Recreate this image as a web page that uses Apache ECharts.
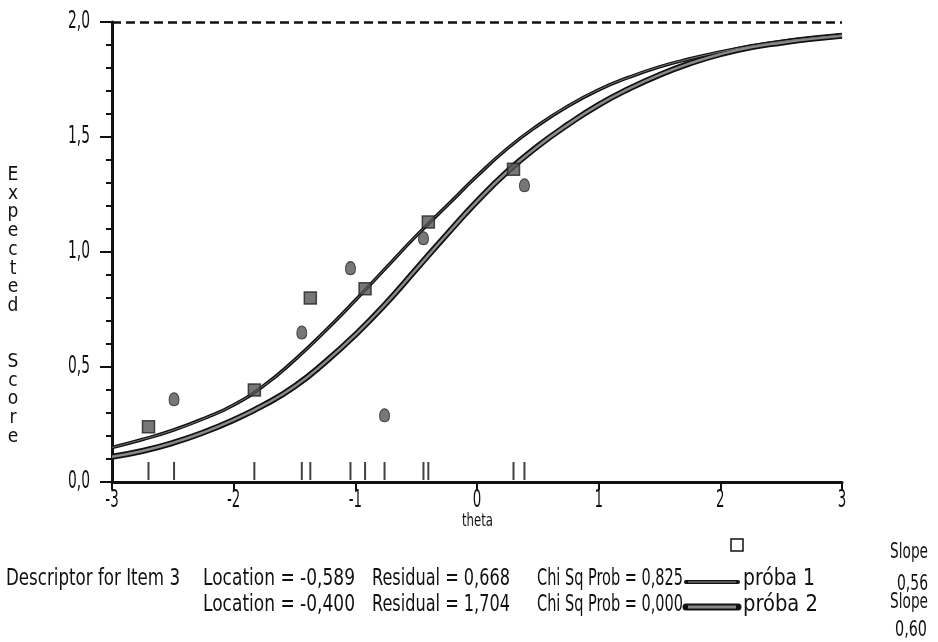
<!DOCTYPE html>
<html>
<head>
<meta charset="utf-8">
<script src="https://cdn.jsdelivr.net/npm/echarts@6/dist/echarts.min.js"></script>
<style>
  html, body { margin: 0; padding: 0; background: #fff; }
  #chart { width: 938px; height: 642px; }
</style>
</head>
<body>
<div id="chart"></div>
<script>
// theta grid for the two expected score curves
const thetaGrid = [-3, -2.75, -2.5, -2.25, -2, -1.75, -1.5, -1.25, -1, -0.75, -0.5, -0.25, 0,
  0.25, 0.5, 0.75, 1, 1.25, 1.5, 1.75, 2, 2.25, 2.5, 2.75, 3];
const proba1Curve = [0.15, 0.185, 0.225, 0.275, 0.335, 0.42, 0.53, 0.655, 0.79, 0.93, 1.07, 1.20, 1.33,
  1.45, 1.55, 1.635, 1.705, 1.76, 1.805, 1.84, 1.87, 1.895, 1.915, 1.93, 1.943];
const proba2Curve = [0.11, 0.135, 0.17, 0.215, 0.27, 0.335, 0.415, 0.52, 0.64, 0.775, 0.925, 1.075, 1.22,
  1.35, 1.46, 1.555, 1.64, 1.71, 1.77, 1.82, 1.86, 1.89, 1.91, 1.927, 1.94];

// observed class means
const proba1Theta = [-2.70, -1.83, -1.37, -0.92, -0.40, 0.30];
const proba1Obs   = [0.24, 0.40, 0.80, 0.84, 1.13, 1.36];
const proba2Theta = [-2.49, -1.44, -1.04, -0.76, -0.44, 0.39];
const proba2Obs   = [0.36, 0.65, 0.93, 0.29, 1.06, 1.29];

const xTicks = [-3, -2, -1, 0, 1, 2, 3];
const yTicks = [0, 0.5, 1, 1.5, 2];

const descRow1 = ['Descriptor for Item 3', 'Location = -0,589', 'Residual = 0,668', 'Chi Sq Prob = 0,825', 'próba 1'];
const descRow2 = ['', 'Location = -0,400', 'Residual = 1,704', 'Chi Sq Prob = 0,000', 'próba 2'];
const slopes = ['0,56', '0,60'];

const FONT = '"DejaVu Sans Condensed", "DejaVu Sans", sans-serif';

const rugTheta = proba1Theta.concat(proba2Theta);
const pair = (xs, ys) => xs.map((x, i) => [x, ys[i]]);

const eggPath = 'path://M10 0 C16 0 20 6 20 13 C20 20 16 24 10 24 C4 24 0 20 0 13 C0 6 4 0 10 0 Z';

let chart = echarts.init(document.getElementById('chart'));

// the original uses a narrow face, so texts are squeezed horizontally
const measureCtx = document.createElement('canvas').getContext('2d');
function textW(text, size) {
  measureCtx.font = size + 'px ' + FONT;
  return measureCtx.measureText(text).width;
}
function fitText(text, x, y, width, size) {
  return {
    type: 'text', silent: true, x: x, y: y, scaleX: width / textW(text, size), scaleY: 1,
    style: { text: text, x: 0, y: 0, fill: '#111', fontSize: size, fontFamily: FONT, verticalAlign: 'middle' }
  };
}
function narrowText(text, cx, cy, size, sx, align) {
  const w = textW(text, size) * sx;
  const left = align === 'right' ? cx - w : cx - w / 2;
  return {
    type: 'text', silent: true, x: left, y: cy, scaleX: sx, scaleY: 1,
    style: { text: text, x: 0, y: 0, fill: '#111', fontSize: size, fontFamily: FONT, verticalAlign: 'middle' }
  };
}

const colX = [6, 203, 372, 537, 743];
const colW = [174, 152, 138, 146, 72];
let graphics = [];
descRow1.forEach((t, i) => { if (t) graphics.push(fitText(t, colX[i], 579, colW[i], 23)); });
descRow2.forEach((t, i) => { if (t) graphics.push(fitText(t, colX[i], 605, colW[i] + (i === 4 ? 3 : 0), 23)); });
graphics.push(fitText('theta', 462, 522, 31, 17));
graphics.push({
  type: 'text', silent: true, x: 13, y: 306,
  style: { text: 'E\nx\np\ne\nc\nt\ne\nd\n\n\nS\nc\no\nr\ne', x: 0, y: 0, fill: '#111', fontSize: 19,
    fontFamily: FONT, align: 'center', verticalAlign: 'middle', lineHeight: 18.7 }
});
graphics.push(fitText('Slope', 890, 553, 38, 21));
graphics.push(fitText(slopes[0], 897, 585, 31, 21));
graphics.push(fitText('Slope', 890, 603, 38, 21));
graphics.push(fitText(slopes[1], 895, 631, 32, 21));
// legend line samples
graphics.push({ type: 'line', silent: true, shape: { x1: 686, y1: 582, x2: 738, y2: 582 }, style: { stroke: '#111', lineWidth: 4, lineCap: 'round' } });
graphics.push({ type: 'line', silent: true, shape: { x1: 688, y1: 582, x2: 736, y2: 582 }, style: { stroke: '#999', lineWidth: 1.2 } });
graphics.push({ type: 'line', silent: true, shape: { x1: 686, y1: 607, x2: 738, y2: 607 }, style: { stroke: '#111', lineWidth: 7, lineCap: 'round' } });
graphics.push({ type: 'line', silent: true, shape: { x1: 688, y1: 607, x2: 736, y2: 607 }, style: { stroke: '#888', lineWidth: 3 } });
graphics.push({ type: 'rect', silent: true, shape: { x: 731, y: 539, width: 12, height: 12 }, style: { fill: '#fff', stroke: '#111', lineWidth: 1.5 } });

let option = {
  backgroundColor: '#fff',
  animation: false,
  grid: { left: 112, right: 96, top: 22, bottom: 160 },
  xAxis: {
    type: 'value', min: -3, max: 3, interval: 1,
    axisLine: { onZero: false, lineStyle: { color: '#111', width: 3 } },
    axisTick: { length: 8, lineStyle: { color: '#111', width: 2 } },
    axisLabel: { show: false },
    splitLine: { show: false }
  },
  yAxis: {
    type: 'value', min: 0, max: 2, interval: 0.5,
    axisLine: { onZero: false, lineStyle: { color: '#111', width: 3 } },
    axisTick: { length: 12, lineStyle: { color: '#111', width: 2 } },
    minorTick: { show: true, splitNumber: 5, length: 6, lineStyle: { color: '#111', width: 2 } },
    axisLabel: { show: false },
    splitLine: { show: false }
  },
  graphic: graphics,
  series: [
    {
      name: 'próba 2 outline', type: 'line', smooth: true, showSymbol: false, z: 2,
      data: pair(thetaGrid, proba2Curve),
      lineStyle: { color: '#111', width: 6 },
      markLine: {
        silent: true, symbol: 'none', label: { show: false },
        lineStyle: { color: '#111', type: [9, 5], width: 2.5 },
        data: [{ yAxis: 2 }]
      }
    },
    {
      name: 'próba 2', type: 'line', smooth: true, showSymbol: false, z: 3,
      data: pair(thetaGrid, proba2Curve),
      lineStyle: { color: '#8a8a8a', width: 2.5 }
    },
    {
      name: 'próba 1 outline', type: 'line', smooth: true, showSymbol: false, z: 2,
      data: pair(thetaGrid, proba1Curve),
      lineStyle: { color: '#111', width: 3.5 }
    },
    {
      name: 'próba 1', type: 'line', smooth: true, showSymbol: false, z: 3,
      data: pair(thetaGrid, proba1Curve),
      lineStyle: { color: '#777', width: 1 }
    },
    {
      name: 'rug', type: 'scatter', z: 4,
      data: rugTheta.map(t => [t, 0]),
      symbol: 'rect', symbolSize: [2, 18], symbolOffset: [0, -11],
      itemStyle: { color: '#111' }
    },
    {
      name: 'obs 1', type: 'scatter', z: 5,
      data: pair(proba1Theta, proba1Obs),
      symbol: 'rect', symbolSize: 12,
      itemStyle: { color: '#555', borderColor: '#222', borderWidth: 1.5 }
    },
    {
      name: 'obs 2', type: 'scatter', z: 5,
      data: pair(proba2Theta, proba2Obs),
      symbol: eggPath, symbolSize: [10, 13],
      itemStyle: { color: '#555', borderColor: '#222', borderWidth: 1 }
    }
  ]
};

chart.setOption(option);

// tick labels in the narrow face, placed through the axis scales
xTicks.forEach(v => {
  const p = chart.convertToPixel({ gridIndex: 0 }, [v, 0]);
  graphics.push(narrowText(String(v), p[0], p[1] + 19, 24, 0.62, 'center'));
});
yTicks.forEach(v => {
  const p = chart.convertToPixel({ gridIndex: 0 }, [-3, v]);
  graphics.push(narrowText(v.toFixed(1).replace('.', ','), p[0] - 22, p[1], 24, 0.64, 'right'));
});
chart.setOption({ graphic: graphics });
</script>
</body>
</html>
